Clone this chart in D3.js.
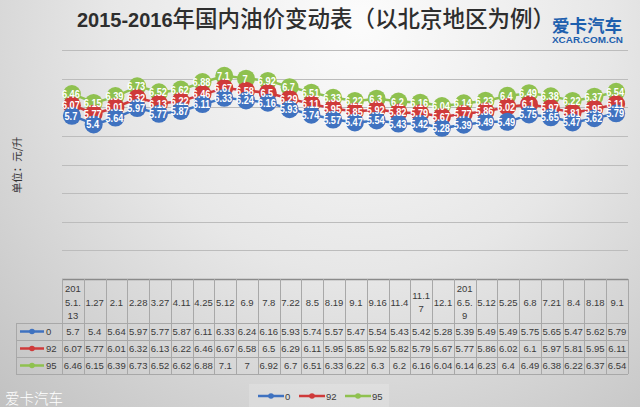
<!DOCTYPE html>
<html><head><meta charset="utf-8">
<script src="https://cdn.jsdelivr.net/npm/d3@7"></script>
<style>html,body{margin:0;padding:0;overflow:hidden;}svg{display:block;}</style>
</head><body>
<script>
const categories = ["201\n5.1.\n13","1.27","2.1","2.28","3.27","4.11","4.25","5.12","6.9","7.8","7.22","8.5","8.19","9.1","9.16","11.4","11.1\n7","12.1","201\n6.5.\n9","5.12","5.25","6.8","7.21","8.4","8.18","9.1"];
const seriesNames = ["0","92","95"];
const s0  = [5.7,5.4,5.64,5.97,5.77,5.87,6.11,6.33,6.24,6.16,5.93,5.74,5.57,5.47,5.54,5.43,5.42,5.28,5.39,5.49,5.49,5.75,5.65,5.47,5.62,5.79];
const s92 = [6.07,5.77,6.01,6.32,6.13,6.22,6.46,6.67,6.58,6.5,6.29,6.11,5.95,5.85,5.92,5.82,5.79,5.67,5.77,5.86,6.02,6.1,5.97,5.81,5.95,6.11];
const s95 = [6.46,6.15,6.39,6.73,6.52,6.62,6.88,7.1,7,6.92,6.7,6.51,6.33,6.22,6.3,6.2,6.16,6.04,6.14,6.23,6.4,6.49,6.38,6.22,6.37,6.54];
const yTicks = [1,2,3,4,5,6,7,8];
const colors = ["#3f72c0","#cf3a3a","#8fc14f"];
const title = "2015-2016";
const titleCn = "年国内油价变动表（以北京地区为例）";
const yTitle = "单位：元/升";

const W=640,H=407;
const svg=d3.select("body").append("svg").attr("width",W).attr("height",H);
const defs=svg.append("defs");
const rg=defs.append("radialGradient").attr("id","bg").attr("gradientUnits","userSpaceOnUse")
  .attr("cx",360).attr("cy",20).attr("r",560);
rg.append("stop").attr("offset","0").attr("stop-color","#fcfcfc");
rg.append("stop").attr("offset","0.45").attr("stop-color","#e7e7e7");
rg.append("stop").attr("offset","1").attr("stop-color","#bdbdbd");
svg.append("rect").attr("width",W).attr("height",H).attr("fill","url(#bg)");

const x0=62,x1=628,yTop=50,yBot=279;
const x=d3.scaleBand().domain(d3.range(categories.length)).range([x0,x1]);
const cx=i=>x(i)+x.bandwidth()/2;
const y=d3.scaleLinear().domain([0,8]).range([yBot,yTop]);

// gridlines
svg.append("g").selectAll("line").data(yTicks).join("line")
  .attr("x1",x0).attr("x2",x1).attr("y1",d=>Math.round(y(d))+0.5).attr("y2",d=>Math.round(y(d))+0.5)
  .attr("stroke","#bcbcbc").attr("stroke-width",1);

// title
const t=svg.append("text").attr("x",316).attr("y",27).attr("text-anchor","middle").attr("fill","#2e2e2e");
t.append("tspan").text(title).attr("font-family","Liberation Sans").attr("font-weight","bold").attr("font-size",20);
t.append("tspan").text(titleCn).attr("font-family","Noto Sans CJK SC").attr("font-weight",500).attr("font-size",22.5);

// logo
svg.append("text").attr("x",552).attr("y",32).attr("textLength",70).attr("lengthAdjust","spacingAndGlyphs")
  .attr("font-family","Noto Sans CJK SC").attr("font-weight","bold").attr("font-size",17).attr("fill","#1d5fae").text("爱卡汽车");
svg.append("text").attr("x",552).attr("y",43).attr("textLength",71).attr("lengthAdjust","spacingAndGlyphs")
  .attr("font-family","Liberation Sans").attr("font-weight","bold").attr("font-size",8.5).attr("fill","#1d5fae").text("XCAR.COM.CN");

// y title
svg.append("text").attr("transform","translate(21,165) rotate(-90)").attr("text-anchor","middle")
  .attr("font-family","Noto Sans CJK SC").attr("font-size",10.5).attr("fill","#333").text(yTitle);

// series
const data=[s0,s92,s95];
const line=d3.line().x((d,i)=>cx(i)).y(d=>y(d));
data.forEach((s,k)=>{
  svg.append("path").attr("d",line(s)).attr("fill","none").attr("stroke",colors[k]).attr("stroke-width",2.5);
});
[2,1,0].forEach(k=>{
  svg.append("g").selectAll("circle").data(data[k]).join("circle")
    .attr("cx",(d,i)=>cx(i)-1).attr("cy",d=>y(d)).attr("r",9).attr("fill",colors[k]);
});
[2,1,0].forEach(k=>{
  svg.append("g").selectAll("text").data(data[k]).join("text")
    .attr("transform",(d,i)=>`translate(${cx(i)-2},${y(d)+4}) scale(0.8,1)`)
    .attr("text-anchor","middle").attr("font-family","Liberation Sans").attr("font-weight","bold")
    .attr("font-size",11.5).attr("fill","#fff").text(d=>d);
});

// axis line
svg.append("line").attr("x1",x0).attr("x2",x1).attr("y1",yBot+0.5).attr("y2",yBot+0.5).attr("stroke","#8a8a8a").attr("stroke-width",1.5);

// table
const hTop=yBot, hBot=323, rowH=17, legL=16;
const tb=svg.append("g").attr("stroke","#a8a8a8").attr("stroke-width",1);
const bounds=d3.range(categories.length).map(i=>x(i)).concat([x1]);
tb.selectAll(".v").data(bounds).join("line").attr("x1",d=>Math.round(d)+0.5).attr("x2",d=>Math.round(d)+0.5)
  .attr("y1",hTop).attr("y2",hBot+3*rowH);
tb.append("line").attr("x1",legL+0.5).attr("x2",legL+0.5).attr("y1",hBot).attr("y2",hBot+3*rowH);
[0,1,2,3].forEach(r=>{
  tb.append("line").attr("x1",legL).attr("x2",x1).attr("y1",hBot+r*rowH+0.5).attr("y2",hBot+r*rowH+0.5);
});
const tf={"font-family":"Liberation Sans","font-size":9.5,"fill":"#3a3a3a"};
categories.forEach((c,i)=>{
  const lines=c.split("\n");
  const n=lines.length, lh=13.5, yc=(hTop+hBot)/2+1;
  lines.forEach((l,j)=>{
    const tt=svg.append("text").attr("x",cx(i)).attr("y",yc+(j-(n-1)/2)*lh+3.5).attr("text-anchor","middle").text(l);
    Object.entries(tf).forEach(([a,v])=>tt.attr(a,v));
  });
});
data.forEach((s,k)=>{
  const yc=hBot+k*rowH+rowH/2;
  s.forEach((v,i)=>{
    const tt=svg.append("text").attr("x",cx(i)).attr("y",yc+3.5).attr("text-anchor","middle").text(v);
    Object.entries(tf).forEach(([a,vv])=>tt.attr(a,vv));
  });
  svg.append("line").attr("x1",20).attr("x2",44).attr("y1",yc).attr("y2",yc).attr("stroke",colors[k]).attr("stroke-width",2.5);
  svg.append("circle").attr("cx",32).attr("cy",yc).attr("r",2.8).attr("fill",colors[k]);
  const tt=svg.append("text").attr("x",46).attr("y",yc+3.5).text(seriesNames[k]);
  Object.entries(tf).forEach(([a,vv])=>tt.attr(a,vv));
});

// legend
svg.append("rect").attr("x",249).attr("y",384).attr("width",140).attr("height",23).attr("fill","#ffffff").attr("opacity",0.18);
const lx=[258,299,345];
seriesNames.forEach((n,k)=>{
  const ly=396;
  svg.append("line").attr("x1",lx[k]).attr("x2",lx[k]+26).attr("y1",ly).attr("y2",ly).attr("stroke",colors[k]).attr("stroke-width",2.5);
  svg.append("circle").attr("cx",lx[k]+13).attr("cy",ly).attr("r",2.8).attr("fill",colors[k]);
  const tt=svg.append("text").attr("x",lx[k]+27).attr("y",ly+3.5).text(n);
  Object.entries(tf).forEach(([a,vv])=>tt.attr(a,vv));
});

// watermark
svg.append("text").attr("x",5).attr("y",404).attr("font-family","Noto Sans CJK SC").attr("font-weight",300)
  .attr("font-size",14.5).attr("fill","#ffffff").text("爱卡汽车");
</script>
</body></html>
